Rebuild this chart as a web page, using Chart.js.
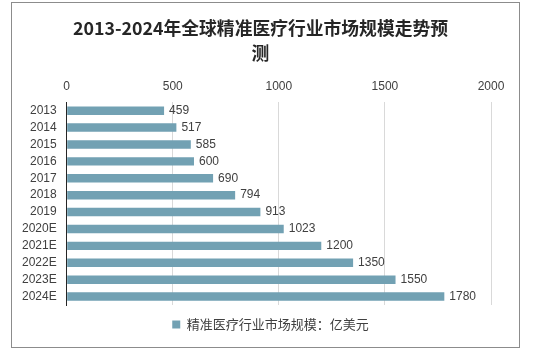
<!DOCTYPE html>
<html>
<head>
<meta charset="utf-8">
<script src="https://cdn.jsdelivr.net/npm/chart.js@4"></script>
<style>
  body { margin: 0; background: #fff; }
  #box {
    position: absolute; left: 11px; top: 2px;
    width: 507px; height: 344px;
    border: 1px solid #8c8c8c;
  }
</style>
</head>
<body>
<div id="box"><canvas id="marketChart" width="507" height="344"></canvas></div>
<script>
const years = ["2013", "2014", "2015", "2016", "2017", "2018", "2019", "2020E", "2021E", "2022E", "2023E", "2024E"];
const marketSize = [459, 517, 585, 600, 690, 794, 913, 1023, 1200, 1350, 1550, 1780];
const titleLines = ["2013-2024年全球精准医疗行业市场规模走势预", "测"];
const seriesName = "精准医疗行业市场规模：亿美元";

const barColor = "#72a1b3";
const textColor = "#404040";

// value labels at the end of each bar
const barValues = {
  id: "barValues",
  afterDatasetsDraw(chart) {
    const ctx = chart.ctx;
    const meta = chart.getDatasetMeta(0);
    ctx.save();
    ctx.font = "12px 'Liberation Sans', Arial, sans-serif";
    ctx.fillStyle = textColor;
    ctx.textBaseline = "middle";
    ctx.textAlign = "left";
    meta.data.forEach((bar, i) => {
      ctx.fillText(marketSize[i], bar.x + 5, bar.y);
    });
    ctx.restore();
  },
};

// keep title and legend centred on the whole box, not the padded area
const boxCentre = {
  id: "boxCentre",
  afterLayout(chart) {
    chart.legend.left = 10;
    chart.legend.right = chart.width;
    chart.titleBlock.right = chart.width - 10;
  },
};

let marketChart = document.getElementById("marketChart").getContext("2d");

let marketChartCanvas = new Chart(marketChart, {
  type: "bar",
  data: {
    labels: years,
    datasets: [
      {
        label: seriesName,
        data: marketSize,
        backgroundColor: barColor,
        barPercentage: 0.5,
        categoryPercentage: 1,
      },
    ],
  },
  options: {
    indexAxis: "y",
    responsive: false,
    animation: false,
    layout: { padding: { left: 0, right: 28, top: 5, bottom: 6 } },
    plugins: {
      title: {
        display: true,
        text: titleLines,
        color: "#262626",
        font: { family: "'Noto Sans CJK SC', sans-serif", size: 17.8, weight: "bold", lineHeight: 1.4 },
        padding: { top: 8, bottom: 6 },
      },
      legend: {
        position: "bottom",
        labels: {
          boxWidth: 8,
          boxHeight: 8,
          color: textColor,
          font: { family: "'Noto Sans CJK SC', sans-serif", size: 13 },
          padding: 13,
        },
      },
      tooltip: { enabled: false },
    },
    scales: {
      x: {
        position: "top",
        min: 0,
        max: 2000,
        ticks: {
          stepSize: 500,
          color: textColor,
          padding: 8,
          font: { family: "'Liberation Sans', Arial, sans-serif", size: 12 },
          callback: (v) => String(v),
        },
        grid: { color: "#d9d9d9", drawTicks: false },
        border: { display: false },
      },
      y: {
        ticks: {
          color: textColor,
          padding: 10,
          autoSkip: false,
          font: { family: "'Liberation Sans', Arial, sans-serif", size: 12 },
        },
        grid: { display: false, drawTicks: false },
        border: { display: true, color: "#262626" },
      },
    },
  },
  plugins: [barValues, boxCentre],
});
</script>
</body>
</html>
